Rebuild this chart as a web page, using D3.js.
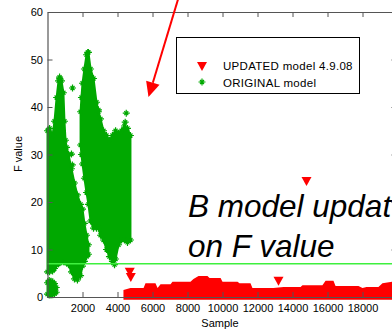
<!DOCTYPE html>
<html>
<head>
<meta charset="utf-8">
<script src="https://cdn.jsdelivr.net/npm/d3@7"></script>
<style>
  body { margin: 0; background: #fff; }
  text { font-family: Arial, "Liberation Sans", sans-serif; }
</style>
</head>
<body>
<div id="chart"></div>
<script>
// ORIGINAL model, read as envelopes of the dense point cloud
const lobe1Samples = [0, 120, 290, 400, 520, 630, 690, 800, 910, 970, 1030, 1090, 1200, 1370, 1540, 1710, 1890, 2000, 2110, 2230, 2340];
const lobe1Low = [5.3, 5.3, 5.5, 6, 6.7, 7, 7.2, 7.4, 7.4, 7.4, 7.4, 7.2, 6.8, 5.3, 3.8, 3.6, 4.5, 6.5, 7.5, 8.5, 9];
const lobe1High = [35, 35.5, 34, 37, 42, 45.5, 46.3, 45.5, 43, 37, 33, 31.5, 30, 27, 24, 21.5, 19.5, 18.5, 15.5, 13, 11];

const lobe2Samples = [1890, 1940, 2000, 2110, 2230, 2340, 2460, 2630, 2800, 2910, 3030, 3200, 3370, 3540, 3710, 3890, 4060, 4230, 4400, 4570, 4740];
const lobe2Low = [32, 30, 28, 25, 22, 19.5, 16, 14.5, 14.5, 14.5, 13, 12, 10, 8.5, 7.5, 8, 11, 12, 12, 11.5, 12];
const lobe2High = [39, 42, 45, 48, 51, 51.5, 48, 46, 41, 39, 37.5, 35, 34, 33, 34, 35, 34.5, 35, 36, 35.5, 34];

const blobSamples = [0, 100, 200, 300, 400, 500];
const blobLow = [0.6, 0.4, 0.4, 0.5, 0.7, 1];
const blobHigh = [3, 3.5, 3.3, 3.2, 2.8, 2];

const originalOutliers = [[1430, 44], [1370, 30.1], [1420, 27.8], [3830, 6.8], [4500, 38.7], [4440, 36.8], [2910, 39.4], [2300, 51.5], [700, 46]];

// UPDATED model 4.9.08
const updatedSamples = [4340, 4740, 5490, 5600, 6170, 6290, 6460, 7030, 7140, 8170, 8340, 8630, 9140, 9260, 9890, 10000, 10860, 10970, 11600, 11710, 12910, 13490, 14460, 14570, 15710, 15890, 16340, 16460, 17770, 18000, 18230, 18910, 19140, 19710, 20000];
const updatedHigh = [1.5, 1.9, 1.9, 2.9, 2.9, 1.9, 2.7, 2.7, 3.2, 3.2, 3.8, 4.4, 4.4, 4.0, 4.0, 3.2, 3.2, 2.9, 2.9, 1.9, 1.9, 2.1, 2.1, 2.5, 2.5, 3.4, 3.4, 2.3, 2.3, 1.9, 2.1, 2.1, 2.9, 3.2, 3.2];
const updatedFloor = -0.6;
const updatedOutliers = [[4700, 5.3], [4760, 4.2], [13200, 3.4], [14800, 24.4]];

const threshold = 7;

const xTicks = [2000, 4000, 6000, 8000, 10000, 12000, 14000, 16000, 18000];
const yTicks = [0, 10, 20, 30, 40, 50, 60];

const width = 392, height = 329;
const green = '#00a800', red = '#ff0000';

const x = d3.scaleLinear().domain([0, 20000]).range([47.5, 397.5]);
const y = d3.scaleLinear().domain([0, 60]).range([297, 12]);

const svg = d3.select('#chart')
  .append('svg')
  .attr('width', width)
  .attr('height', height);

const star = 'M-3.5,0H3.5M0,-3.5V3.5M-2,-2L2,2M-2,2L2,-2';
const tri = 'M-5,-4L5,-4L0,5Z';

const band = (samples, low, high) => samples.map((s, i) => ({s: s, lo: low[i], hi: high[i]}));

const area = d3.area()
  .x(d => x(d.s))
  .y0(d => y(d.lo))
  .y1(d => y(d.hi));

// green cloud
const greenBands = [
  band(lobe1Samples, lobe1Low, lobe1High),
  band(lobe2Samples, lobe2Low, lobe2High),
  band(blobSamples, blobLow, blobHigh)
];

svg.selectAll('path.cloud')
  .data(greenBands)
  .enter()
  .append('path')
  .attr('class', 'cloud')
  .attr('d', area)
  .attr('fill', green)
  .attr('stroke', green)
  .attr('stroke-width', 2);

const edgePoints = [];
for (const b of greenBands) {
  for (const d of b) {
    edgePoints.push([d.s, d.hi]);
    edgePoints.push([d.s, d.lo]);
  }
}

svg.selectAll('path.star')
  .data(edgePoints.concat(originalOutliers))
  .enter()
  .append('path')
  .attr('class', 'star')
  .attr('d', star)
  .attr('transform', d => `translate(${x(d[0])},${y(d[1])})`)
  .attr('fill', 'none')
  .attr('stroke', green)
  .attr('stroke-width', 1.2);

// red band
const redData = updatedSamples.map((s, i) => ({s: s, lo: updatedFloor, hi: updatedHigh[i]}));
svg.append('path')
  .attr('d', area(redData))
  .attr('fill', red);

svg.selectAll('path.tri')
  .data(updatedOutliers)
  .enter()
  .append('path')
  .attr('class', 'tri')
  .attr('d', tri)
  .attr('transform', d => `translate(${x(d[0])},${y(d[1])})`)
  .attr('fill', red);

// threshold line
svg.append('line')
  .attr('x1', x(0)).attr('x2', x(20000))
  .attr('y1', y(threshold)).attr('y2', y(threshold))
  .attr('stroke', '#3ef03e')
  .attr('stroke-width', 1.5);

// axes
const axisColor = '#555';
const styleAxis = g => {
  g.select('.domain').attr('stroke', axisColor).attr('stroke-width', 1.2);
  g.selectAll('.tick line').attr('stroke', axisColor);
  g.selectAll('.tick text').attr('fill', '#000').attr('font-size', 11)
    .attr('font-family', 'Arial, "Liberation Sans", sans-serif');
};

svg.append('g')
  .attr('transform', `translate(0,${y(0)})`)
  .call(d3.axisBottom(x).tickValues(xTicks).tickFormat(d3.format('d')).tickSize(-5).tickSizeOuter(0).tickPadding(7))
  .call(styleAxis);

svg.append('g')
  .attr('transform', `translate(0,${y(60)})`)
  .call(d3.axisTop(x).tickValues(xTicks).tickSize(-5).tickSizeOuter(0).tickFormat(''))
  .call(styleAxis);

svg.append('g')
  .attr('transform', `translate(${x(0)},0)`)
  .call(d3.axisLeft(y).tickValues(yTicks).tickSize(-5).tickSizeOuter(0).tickPadding(4.5))
  .call(styleAxis);

svg.append('g')
  .attr('transform', `translate(${x(20000)},0)`)
  .call(d3.axisRight(y).tickValues(yTicks).tickSize(-6).tickSizeOuter(0).tickFormat(''))
  .call(styleAxis);

svg.append('text')
  .attr('x', 220).attr('y', 327)
  .attr('text-anchor', 'middle')
  .attr('font-size', 11)
  .text('Sample');

svg.append('text')
  .attr('transform', 'translate(22,154) rotate(-90)')
  .attr('text-anchor', 'middle')
  .attr('font-size', 11)
  .text('F value');

// legend
const legend = svg.append('g');
legend.append('rect')
  .attr('x', 176.5).attr('y', 37.5)
  .attr('width', 183).attr('height', 56)
  .attr('fill', '#fff')
  .attr('stroke', '#000');
legend.append('path')
  .attr('d', tri)
  .attr('transform', 'translate(202,66)')
  .attr('fill', red);
legend.append('text')
  .attr('x', 223).attr('y', 70)
  .attr('font-size', 11.5)
  .attr('letter-spacing', 0.3)
  .text('UPDATED model 4.9.08');
legend.append('path')
  .attr('d', star)
  .attr('transform', 'translate(202,82)')
  .attr('fill', 'none')
  .attr('stroke', green)
  .attr('stroke-width', 1.2);
legend.append('text')
  .attr('x', 223).attr('y', 87)
  .attr('font-size', 11.5)
  .attr('letter-spacing', 0.3)
  .text('ORIGINAL model');

// annotation arrow
const arrowStart = [7486, 63];
const arrowTip = [5771, 42.1];
const x0 = x(arrowStart[0]), y0 = y(arrowStart[1]);
const x1 = x(arrowTip[0]), y1 = y(arrowTip[1]);
const len = Math.hypot(x1 - x0, y1 - y0);
const ux = (x1 - x0) / len, uy = (y1 - y0) / len;
const bx = x1 - 15 * ux, by = y1 - 15 * uy;
svg.append('line')
  .attr('x1', x0).attr('y1', y0)
  .attr('x2', bx).attr('y2', by)
  .attr('stroke', red)
  .attr('stroke-width', 2);
svg.append('path')
  .attr('d', `M${x1},${y1}L${bx - 7 * uy},${by + 7 * ux}L${bx + 7 * uy},${by - 7 * ux}Z`)
  .attr('fill', red);

// overlay text
svg.append('text')
  .attr('x', 188).attr('y', 217)
  .attr('font-size', 31.5)
  .attr('font-style', 'italic')
  .text('B model updat');
svg.append('text')
  .attr('x', 188).attr('y', 257)
  .attr('font-size', 31.5)
  .attr('font-style', 'italic')
  .text('on F value');
</script>
</body>
</html>
